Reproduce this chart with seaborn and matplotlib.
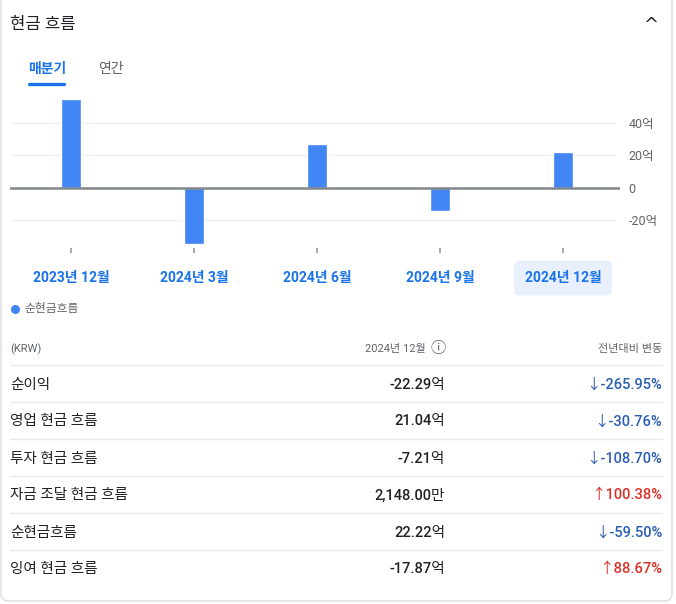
import matplotlib
matplotlib.use("Agg")
import matplotlib.pyplot as plt
import seaborn as sns
import pandas as pd
from matplotlib.patches import FancyBboxPatch
from matplotlib.lines import Line2D

# ---------------- data ----------------
quarters = ["2023년 12월", "2024년 3월", "2024년 6월", "2024년 9월", "2024년 12월"]
net_cash_flow = [54.9, -34.6, 27.0, -14.6, 22.22]   # 억 KRW
y_ticks = [-20, 0, 20, 40]

row_labels = ["순이익", "영업 현금 흐름", "투자 현금 흐름", "자금 조달 현금 흐름", "순현금흐름", "잉여 현금 흐름"]
row_values = ["-22.29억", "21.04억", "-7.21억", "2,148.00만", "22.22억", "-17.87억"]
row_changes = ["-265.95%", "-30.76%", "-108.70%", "100.38%", "-59.50%", "88.67%"]
row_up = [False, False, False, True, False, True]

# ---------------- setup ----------------
sns.set_theme(style="white")
FAM = ["Roboto", "Noto Sans CJK KR", "DejaVu Sans"]
plt.rcParams["font.family"] = FAM

W, H = 676, 604
fig = plt.figure(figsize=(W / 100, H / 100), dpi=100)
fig.patch.set_facecolor("white")

def fx(x):
    return x / W

def fy(y):
    return 1 - y / H

BLUE = "#1a73e8"
BAR = "#4285f4"
GRAY = "#5f6368"
DARK = "#202124"
LINE = "#e8eaed"
DOWN = "#2a5db3"
UP = "#d93025"

# card border
card = FancyBboxPatch((fx(1), fy(601)), fx(672) - fx(1), fy(-30) - fy(601),
                      boxstyle="round,pad=0,rounding_size=0.012",
                      transform=fig.transFigure, facecolor="white",
                      edgecolor="#dadce0", linewidth=1.0, zorder=0)
fig.add_artist(card)

# header
fig.text(fx(10), fy(24), "현금 흐름", fontsize=12, color=DARK, va="center", ha="left")
fig.text(fx(651), fy(25), "^", fontsize=13, color=DARK, va="center", ha="center",
         family=["DejaVu Sans"])
fig.text(fx(28), fy(69), "매분기", fontsize=10, color=BLUE, va="center", ha="left", fontweight="bold")
fig.text(fx(98), fy(69), "연간", fontsize=10, color=GRAY, va="center", ha="left", fontweight="medium")
fig.add_artist(Line2D([fx(29), fx(64)], [fy(83.5), fy(83.5)], transform=fig.transFigure,
                      color=BLUE, linewidth=2.4, solid_capstyle="round"))

# ---------------- chart ----------------
ax_l, ax_r, ax_t, ax_b = 10, 620, 90, 248
ax = fig.add_axes([fx(ax_l), fy(ax_b), fx(ax_r) - fx(ax_l), fy(ax_t) - fy(ax_b)])
ax.set_facecolor("none")

df = pd.DataFrame({"quarter": quarters, "value": net_cash_flow})
sns.barplot(data=df, x="quarter", y="value", color=BAR, saturation=1,
            width=0.163, ax=ax, zorder=3)

zero_px = 187.7
px_per = 1.615
ax.set_ylim((zero_px - ax_b) / px_per, (zero_px - ax_t) / px_per)
ax.set_xlim(-0.496, 4.463)

for v in y_ticks:
    if v != 0:
        ax.axhline(v, color="#eef0f2", linewidth=1.0, zorder=1, xmax=0.992)
ax.axhline(0, color="#80868b", linewidth=1.8, zorder=4)

ax.yaxis.tick_right()
ax.set_yticks(y_ticks)
ax.set_yticklabels([("0" if v == 0 else f"{v}억") for v in y_ticks])
ax.tick_params(axis="y", length=0, pad=6, labelsize=9, labelcolor=GRAY)

ax.set_xticks(range(len(quarters)))
ax.set_xticklabels(quarters)
ax.tick_params(axis="x", length=3.6, width=1.3, color="#9aa0a6", pad=13,
               labelsize=10, labelcolor=BLUE, bottom=True, direction="out")
for lbl in ax.get_xticklabels():
    lbl.set_fontweight("bold")
last = ax.get_xticklabels()[-1]
last.set_bbox(dict(boxstyle="round,pad=0.75,rounding_size=0.35",
                   facecolor="#e8f0fe", edgecolor="none"))

ax.set_xlabel("")
ax.set_ylabel("")
for s in ax.spines.values():
    s.set_visible(False)

# legend
fig.add_artist(Line2D([fx(15)], [fy(308.5)], transform=fig.transFigure, marker="o",
                      markersize=5.5, color=BAR, linestyle="none"))
fig.text(fx(24), fy(308.5), "순현금흐름", fontsize=8.5, color=GRAY, va="center", ha="left")

# ---------------- table ----------------
fig.text(fx(10), fy(349), "(KRW)", fontsize=8, color=GRAY, va="center", ha="left")
fig.text(fx(426), fy(349), "2024년 12월", fontsize=8, color=GRAY, va="center", ha="right")
fig.text(fx(438), fy(348.5), "ⓘ", fontsize=11, color=GRAY, va="center", ha="center",
         family=["Noto Sans CJK KR", "DejaVu Sans"])
fig.text(fx(662), fy(349), "전년대비 변동", fontsize=8, color=GRAY, va="center", ha="right")

row_y0 = 383
row_h = 37
for i, (lab, val, chg, up) in enumerate(zip(row_labels, row_values, row_changes, row_up)):
    yc = row_y0 + i * row_h
    sep = yc - 18
    fig.add_artist(Line2D([fx(10), fx(662)], [fy(sep), fy(sep)], transform=fig.transFigure,
                          color=LINE, linewidth=1.0))
    ty = yc + 1.5
    fig.text(fx(10), fy(ty), lab, fontsize=10.5, color=DARK, va="center", ha="left",
             fontweight="medium")
    fig.text(fx(445), fy(ty), val, fontsize=10.5, color=DARK, va="center", ha="right",
             fontweight="medium")
    arrow = "↑" if up else "↓"
    fig.text(fx(662), fy(ty), f"{arrow}{chg}", fontsize=10.5, color=(UP if up else DOWN),
             va="center", ha="right", fontweight="medium")

fig.savefig("out.png", dpi=100, facecolor="white")
